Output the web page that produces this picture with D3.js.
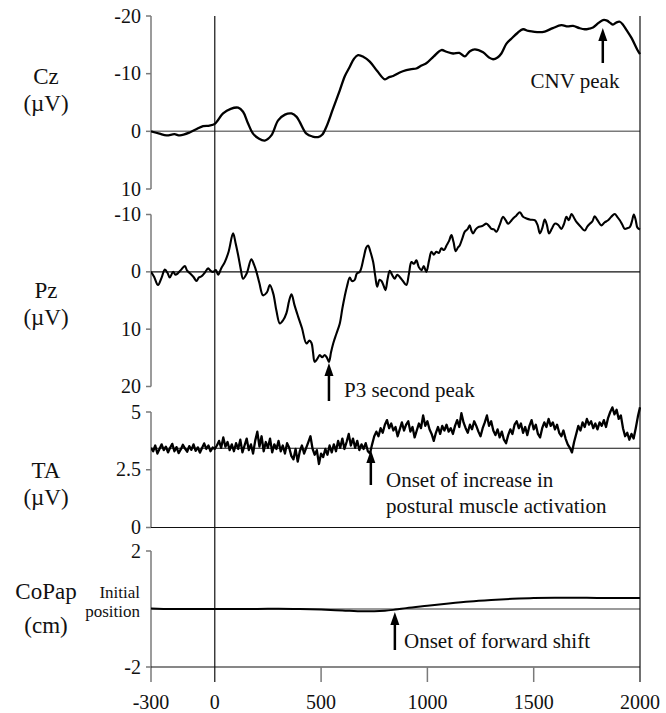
<!DOCTYPE html>
<html>
<head>
<meta charset="utf-8">
<script src="https://cdn.jsdelivr.net/npm/d3@7"></script>
<style>
  html, body { margin: 0; padding: 0; background: #fff; }
  svg text { font-family: "Liberation Serif", "Times New Roman", serif; fill: #111; }
</style>
</head>
<body>
<svg id="chart" width="666" height="713"></svg>
<script>
// ---- data (time in ms relative to stimulus) ----
const timeTicks = [-300, 0, 500, 1000, 1500, 2000];

// Cz ERP (µV, negative plotted upward)
const czTrace = [
  [-300, 0], [-260, 0.4], [-227, 0.7], [-190, 0.5], [-164, 0.7], [-118, 0.2], [-85, -0.4], [-55, -0.9], [-25, -1.0],
  [0, -1.3], [39, -3.1], [75, -3.9], [110, -4.1], [133, -3.4], [155, -1.5], [180, 0.4], [205, 1.2],
  [235, 1.6], [266, 0.7], [298, -1.9], [330, -2.9], [361, -3.1], [385, -2.5], [400, -1.6], [431, 0.4],
  [460, 0.9], [486, 1.0], [505, 0.6], [525, -0.8], [555, -3.8], [588, -7.1], [612, -9.6], [635, -11.2],
  [655, -12.6], [674, -13.2], [700, -12.9], [729, -12.1], [765, -10.4], [800, -9.0], [820, -9.4],
  [839, -9.6], [870, -10.2], [901, -10.6], [925, -10.8], [948, -10.9], [972, -11.4], [995, -11.8],
  [1030, -13.0], [1066, -14.1], [1090, -13.8], [1121, -13.5], [1150, -13.6], [1176, -13.0],
  [1200, -13.9], [1223, -14.2], [1262, -13.7], [1290, -12.8], [1309, -12.5], [1330, -12.8],
  [1348, -13.5], [1372, -15.2], [1396, -16.1], [1425, -17.1], [1450, -17.7], [1475, -17.4],
  [1497, -17.3], [1525, -17.2], [1552, -17.3], [1590, -17.9], [1630, -18.4], [1660, -18.2],
  [1685, -18.3], [1715, -17.9], [1740, -17.7], [1760, -17.8], [1779, -18.0], [1805, -18.8],
  [1826, -19.3], [1845, -19.2], [1860, -18.8], [1873, -18.5], [1890, -18.9], [1905, -19.0],
  [1920, -18.5], [1936, -17.6], [1960, -16.2], [1988, -14.1], [2000, -13.4]
];

// Pz ERP (µV, negative plotted upward)
const pzTrace = [
  [-300, 0], [-285, 0.9], [-267, 2.3], [-250, 1.0], [-235, -0.4], [-222, 0.2], [-212, 1.0], [-196, 0],
  [-185, 0.5], [-175, 0.3], [-160, -0.3], [-141, -1.0], [-130, -0.2], [-118, 0.2], [-100, 0.9],
  [-86, 1.6], [-75, 1.0], [-63, 0.8], [-48, 0.2], [-31, -0.6], [-20, -0.2], [-8, 0], [5, -0.3],
  [16, 0.5], [30, -0.6], [47, -1.7], [65, -3.5], [86, -6.7], [98, -5.0], [110, -2.9], [122, -0.5],
  [133, 1.2], [150, 0.3], [172, -2.2], [185, -1.2], [196, 0], [210, 2.0], [227, 4.1], [245, 3.6],
  [259, 2.3], [275, 3.8], [290, 6.8], [306, 9.0], [322, 8.4], [337, 7.2], [350, 5.0], [361, 3.9],
  [375, 5.8], [392, 7.8], [410, 9.8], [431, 12.5], [445, 12.0], [455, 12.4], [462, 14.0], [470, 15.7],
  [482, 15.2], [494, 14.5], [505, 14.9], [517, 14.5], [528, 15.0], [537, 15.7], [547, 14.0], [557, 12.5],
  [572, 10.8], [588, 9.0], [600, 6.4], [611, 4.3], [622, 2.5], [635, 1.0], [645, 1.6], [658, 1.4],
  [668, 0.3], [682, 0], [700, -2.4], [712, -4.2], [721, -4.6], [732, -3.5], [745, -1.7], [755, 0.8],
  [764, 2.6], [775, 1.4], [784, 1.6], [794, 2.4], [803, 3.2], [813, 1.2], [823, -0.2], [835, 0.6],
  [846, 1.2], [858, 0.5], [870, 0.9], [885, 1.6], [901, 2.3], [913, 0.4], [925, -1.7], [937, -1.4],
  [948, -2.0], [960, -0.8], [972, -0.3], [983, -1.0], [995, 0], [1008, -2.0], [1019, -3.5],
  [1030, -3.0], [1042, -3.5], [1054, -3.3], [1066, -4.1], [1078, -3.8], [1090, -4.6], [1102, -5.4],
  [1113, -6.4], [1123, -5.2], [1133, -3.6], [1143, -4.2], [1152, -4.6], [1164, -5.8], [1176, -7.0],
  [1188, -7.4], [1199, -8.1], [1207, -7.2], [1215, -6.7], [1227, -7.4], [1239, -7.8], [1258, -8.0],
  [1278, -8.4], [1290, -8.0], [1301, -7.5], [1313, -7.4], [1325, -7.0], [1340, -8.2], [1356, -9.6],
  [1368, -9.0], [1380, -8.4], [1392, -8.8], [1403, -9.3], [1418, -9.8], [1435, -10.4], [1450, -9.6],
  [1466, -9.3], [1485, -9.1], [1505, -9.0], [1518, -8.2], [1529, -6.7], [1540, -7.6], [1552, -9.1],
  [1562, -8.2], [1572, -6.7], [1585, -7.5], [1599, -8.4], [1615, -8.2], [1630, -7.5], [1642, -8.3],
  [1654, -9.6], [1665, -9.0], [1678, -10.1], [1690, -9.4], [1701, -8.7], [1718, -8.0], [1740, -7.2],
  [1752, -7.9], [1764, -8.4], [1776, -8.8], [1787, -9.7], [1800, -9.0], [1818, -8.1], [1833, -8.6],
  [1850, -9.0], [1865, -9.6], [1881, -10.1], [1893, -9.6], [1905, -9.0], [1917, -8.2], [1928, -7.5],
  [1940, -7.6], [1952, -7.8], [1962, -8.8], [1971, -10.0], [1980, -9.0], [1988, -7.7], [2000, -7.4]
];

// Tibialis anterior EMG (µV), one sample every 10 ms from -300 to 2000
const taValues = [
  3.45, 3.30, 3.55, 3.20, 3.40, 3.60, 3.35, 3.50, 3.25, 3.45, 3.62, 3.30, 3.48, 3.22, 3.38, 3.58,
  3.42, 3.28, 3.52, 3.36, 3.60, 3.32, 3.47, 3.24, 3.44, 3.64, 3.40, 3.55, 3.30, 3.46, 3.40,
  3.55, 3.75, 3.45, 3.90, 3.50, 3.70, 3.35, 3.60, 3.30, 3.65, 3.40, 3.80, 3.25, 3.55, 3.85, 3.35,
  3.60, 3.20, 3.75, 4.15, 3.50, 3.95, 3.30, 3.70, 3.45, 3.85, 3.25, 3.60, 3.40, 3.75, 3.30, 3.55,
  3.20, 3.65, 3.45, 3.10, 2.95, 3.40, 2.85, 3.30, 3.55, 3.20, 3.45, 3.70, 3.95, 3.40, 3.15, 3.35,
  2.75, 3.20, 3.05, 3.40, 3.15, 3.55, 3.25, 3.60, 3.30, 3.75, 3.45, 3.85, 3.40, 3.70, 4.05, 3.55,
  3.85, 3.45, 3.75, 3.35, 3.60, 3.40, 3.65, 3.30, 3.20,
  3.60, 3.95, 4.15, 3.95, 4.30, 4.10, 4.45, 4.65, 4.30, 4.50, 4.20, 4.35, 3.95, 4.25, 4.55, 4.20,
  4.45, 4.60, 4.15, 4.35, 3.90, 4.20, 4.50, 4.30, 4.85, 4.40, 4.60, 4.25, 4.05, 3.75, 4.10, 4.35,
  4.05, 4.40, 4.20, 4.45, 4.15, 4.30, 4.05, 4.40, 4.65, 4.35, 4.95, 4.55, 4.30, 4.10, 4.45, 4.25,
  4.60, 4.40, 4.15, 3.95, 4.30, 4.55, 4.85, 4.40, 4.60, 4.20, 4.00, 4.25, 3.90, 4.15, 3.80, 3.65,
  4.00, 4.25, 4.05, 4.45, 4.60, 4.30, 4.50, 4.10, 4.35, 4.00, 4.40, 4.65, 4.25, 4.45, 4.05, 3.90,
  4.30, 4.55, 4.35, 4.70, 4.40, 4.55, 4.25, 4.45, 4.10, 3.95, 4.20, 3.85, 3.60, 3.45, 3.25, 3.70,
  4.05, 4.40, 4.20, 4.55, 4.35, 4.70, 4.45, 4.60, 4.30, 4.50, 4.25, 4.55, 4.40, 4.65, 4.35, 4.75,
  5.00, 5.20, 4.90, 5.10, 4.70, 4.85, 4.30, 3.95, 4.10, 3.80, 4.05, 3.85, 4.30, 4.80, 5.20
];
const taBaseline = 3.43;

// Anteroposterior centre of pressure (cm, relative to initial position)
const copTrace = [
  [-300, 0.02], [-200, 0.0], [-100, 0.0], [0, 0.0], [100, 0.0], [200, 0.0], [300, 0.01], [400, 0.0],
  [500, -0.02], [600, -0.05], [700, -0.08], [800, -0.06], [850, -0.02], [900, 0.03], [1000, 0.11],
  [1100, 0.19], [1200, 0.26], [1300, 0.31], [1400, 0.35], [1500, 0.38], [1600, 0.39], [1700, 0.39],
  [1800, 0.38], [1900, 0.38], [2000, 0.38]
];

// panel axis ticks
const czTicks = [-20, -10, 0, 10];
const pzTicks = [-10, 0, 10, 20];
const taTicks = [0, 2.5, 5];
const taTickLabels = ["0", "2.5", "5"];
const copTicks = [-2, 2];

// annotated event times (ms)
const cnvPeakTime = 1825;
const p3PeakTime = 537;
const emgOnsetTime = 734;
const copOnsetTime = 847;

// ---- drawing ----
const svg = d3.select("#chart");
const X0 = 151, X1 = 640;
const x = d3.scaleLinear().domain([-300, 2000]).range([X0, X1]);

const yCz = d3.scaleLinear().domain([-20, 10]).range([16, 189]);
const yPz = d3.scaleLinear().domain([-10, 20]).range([214.5, 386.5]);
const yTa = d3.scaleLinear().domain([0, 5]).range([527.5, 412]);
const yCop = d3.scaleLinear().domain([-2, 2]).range([667, 551]);

const GRAY = "#7a7a7a";

// left axes per panel
function leftAxis(scale, ticks, labels, extendBottom) {
  const g = svg.append("g");
  const [a, b] = scale.range();
  const top = Math.min(a, b), bot = Math.max(a, b) + (extendBottom || 0);
  g.append("line").attr("x1", X0).attr("x2", X0).attr("y1", top).attr("y2", bot)
    .attr("stroke", GRAY).attr("stroke-width", 1.5);
  ticks.forEach((t, i) => {
    const y = scale(t);
    g.append("line").attr("x1", X0 - 5).attr("x2", X0).attr("y1", y).attr("y2", y)
      .attr("stroke", GRAY).attr("stroke-width", 1.5);
    g.append("text").attr("x", X0 - 10).attr("y", y + 6.5)
      .attr("text-anchor", "end").attr("font-size", 20)
      .text(labels ? labels[i] : String(t));
  });
}
leftAxis(yCz, czTicks);
leftAxis(yPz, pzTicks);
leftAxis(yTa, taTicks, taTickLabels);
leftAxis(yCop, copTicks, null, 15);

// horizontal reference lines
function hline(y, color, w) {
  svg.append("line").attr("x1", X0).attr("x2", X1).attr("y1", y).attr("y2", y)
    .attr("stroke", color).attr("stroke-width", w);
}
hline(yCz(0), GRAY, 1.5);
hline(yPz(0), "#111", 1.2);
hline(yTa(taBaseline), "#111", 1.2);
hline(yTa(0), "#111", 1.2);
hline(yCop(0), GRAY, 1.5);
hline(yCop(-2), "#111", 1.2);

// vertical lines at stimulus and end of epoch
[0, 2000].forEach(t => {
  svg.append("line").attr("x1", x(t)).attr("x2", x(t)).attr("y1", 16).attr("y2", 682)
    .attr("stroke", "#111").attr("stroke-width", 1.2);
});

// bottom time axis
const xAxis = svg.append("g");
timeTicks.forEach(t => {
  if (t === 500 || t === 1000 || t === 1500) {
    xAxis.append("line").attr("x1", x(t)).attr("x2", x(t)).attr("y1", yCop(-2)).attr("y2", 682)
      .attr("stroke", GRAY).attr("stroke-width", 1.5);
  }
  xAxis.append("text").attr("x", x(t)).attr("y", 709).attr("text-anchor", "middle")
    .attr("font-size", 20).text(String(t));
});

// traces
svg.append("clipPath").attr("id", "plotclip")
  .append("rect").attr("x", X0).attr("y", 0).attr("width", X1 - X0 + 1).attr("height", 713);

function trace(data, yScale, curve, width) {
  const line = d3.line().x(d => x(d[0])).y(d => yScale(d[1])).curve(curve);
  svg.append("path").datum(data).attr("d", line).attr("fill", "none")
    .attr("stroke", "#000").attr("stroke-width", width).attr("stroke-linejoin", "round")
    .attr("clip-path", "url(#plotclip)");
}
trace(czTrace, yCz, d3.curveCatmullRom.alpha(0.5), 2.3);
trace(pzTrace, yPz, d3.curveCatmullRom.alpha(0.5), 2.1);
trace(taValues.map((v, i) => [-300 + i * 10, v]), yTa, d3.curveLinear, 2.3);
trace(copTrace, yCop, d3.curveMonotoneX, 2);

// panel labels
function panelLabel(lines, ys) {
  lines.forEach((s, i) => {
    svg.append("text").attr("x", 46).attr("y", ys[i]).attr("text-anchor", "middle")
      .attr("font-size", 23).text(s);
  });
}
panelLabel(["Cz", "(\u00b5V)"], [84, 111]);
panelLabel(["Pz", "(\u00b5V)"], [298, 325]);
panelLabel(["TA", "(\u00b5V)"], [478, 505]);
panelLabel(["CoPap", "(cm)"], [599, 633]);

svg.append("text").attr("x", 140).attr("y", 598).attr("text-anchor", "end")
  .attr("font-size", 17).text("Initial");
svg.append("text").attr("x", 140).attr("y", 617).attr("text-anchor", "end")
  .attr("font-size", 17).text("position");

// arrows
function arrow(xp, tipY, tailY) {
  svg.append("line").attr("x1", xp).attr("x2", xp).attr("y1", tipY + 10).attr("y2", tailY)
    .attr("stroke", "#000").attr("stroke-width", 2.5);
  svg.append("path")
    .attr("d", `M${xp},${tipY} L${xp - 4.5},${tipY + 13} L${xp + 4.5},${tipY + 13} Z`)
    .attr("fill", "#000");
}
function note(xp, y, s, anchor) {
  svg.append("text").attr("x", xp).attr("y", y).attr("text-anchor", anchor || "start")
    .attr("font-size", 21).text(s);
}

arrow(x(cnvPeakTime), 28, 63);
note(575, 88, "CNV peak", "middle");

arrow(x(p3PeakTime), yPz(15.9), 401);
note(344, 397, "P3 second peak");

arrow(x(emgOnsetTime), 450, 485);
note(386, 487, "Onset of increase in");
note(386, 513, "postural muscle activation");

arrow(x(copOnsetTime), 612, 650);
note(404, 648, "Onset of forward shift");
</script>
</body>
</html>
